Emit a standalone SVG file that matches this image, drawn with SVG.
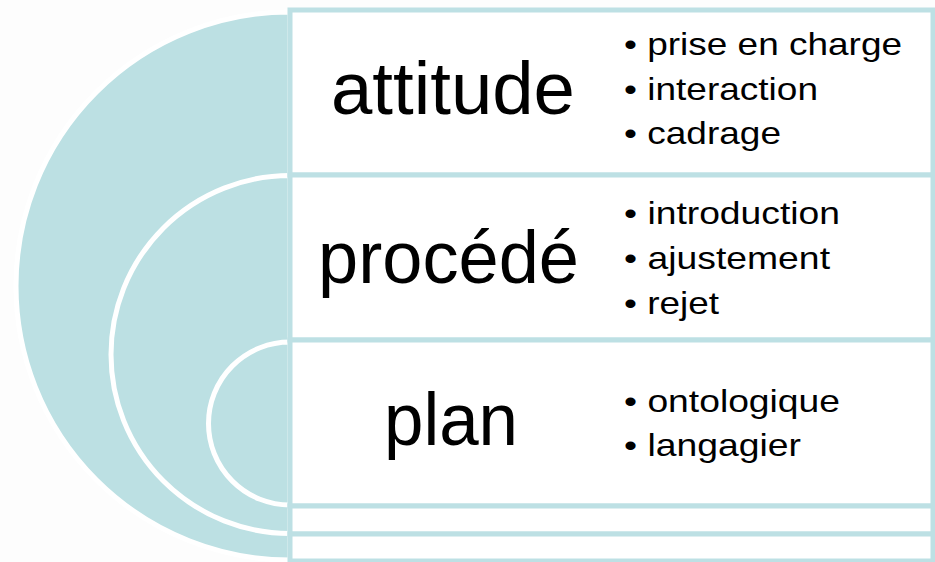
<svg xmlns="http://www.w3.org/2000/svg" width="935" height="562" viewBox="0 0 935 562">
<style>
.arc{fill:#bce0e3;stroke:#ffffff;stroke-width:5}
.box{fill:#ffffff;stroke:#bde0e4;stroke-width:5}
.title{font-family:"Liberation Sans",Arial,sans-serif;font-size:74px;fill:#000}
.item{font-family:"Liberation Sans",Arial,sans-serif;font-size:32px;fill:#000}
</style>
<rect width="935" height="562" fill="#fdfdfd"/>
<g id="arcs">
<path class="arc" d="M290,12 A274,274 0 0 0 290,560 Z"/>
<path class="arc" d="M290,175.5 A179,179 0 0 0 290,533.5 Z"/>
<path class="arc" d="M290,342 A81.5,81.5 0 0 0 290,505 Z"/>
</g>
<g id="node-attitude">
<rect class="box" x="290" y="10" width="643" height="165"/>
<text class="title" x="331" y="114" textLength="244" lengthAdjust="spacingAndGlyphs">attitude</text>
<text class="item" x="624" y="55" textLength="278" lengthAdjust="spacingAndGlyphs">• prise en charge</text>
<text class="item" x="624" y="100" textLength="194" lengthAdjust="spacingAndGlyphs">• interaction</text>
<text class="item" x="624" y="144" textLength="157" lengthAdjust="spacingAndGlyphs">• cadrage</text>
</g>
<g id="node-procede">
<rect class="box" x="290" y="175" width="643" height="165"/>
<text class="title" x="318" y="283" textLength="261" lengthAdjust="spacingAndGlyphs">procédé</text>
<text class="item" x="624" y="224" textLength="216" lengthAdjust="spacingAndGlyphs">• introduction</text>
<text class="item" x="624" y="269" textLength="206" lengthAdjust="spacingAndGlyphs">• ajustement</text>
<text class="item" x="624" y="314" textLength="95" lengthAdjust="spacingAndGlyphs">• rejet</text>
</g>
<g id="node-plan">
<rect class="box" x="290" y="340" width="643" height="166"/>
<text class="title" x="384" y="445" textLength="134" lengthAdjust="spacingAndGlyphs">plan</text>
<text class="item" x="624" y="412" textLength="216" lengthAdjust="spacingAndGlyphs">• ontologique</text>
<text class="item" x="624" y="456" textLength="177" lengthAdjust="spacingAndGlyphs">• langagier</text>
</g>
<g id="node-empty1">
<rect class="box" x="290" y="506" width="643" height="28"/>
</g>
<g id="node-empty2">
<rect class="box" x="290" y="534" width="643" height="27"/>
</g>
<g id="connectors"></g>
</svg>
